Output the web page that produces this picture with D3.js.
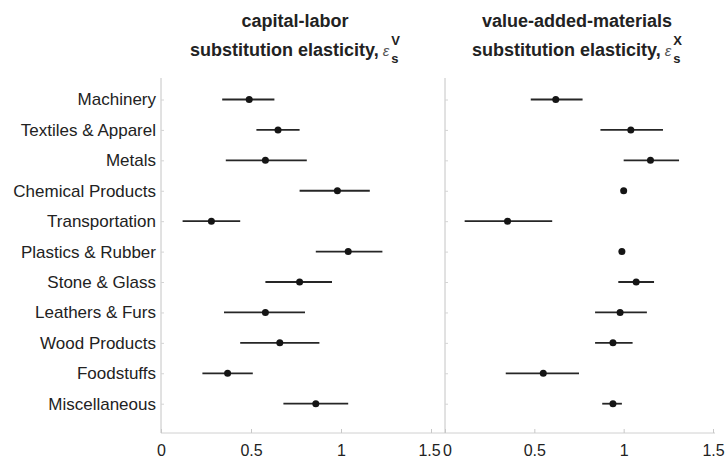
<!DOCTYPE html>
<html>
<head>
<meta charset="utf-8">
<script src="https://cdn.jsdelivr.net/npm/d3@7"></script>
<style>
  body { margin: 0; background: #fff; }
  text { font-family: "Liberation Sans", Arial, sans-serif; fill: #222; }
  .title { font-weight: bold; font-size: 18px; }
  .y-axis text { font-size: 17px; }
  .x-axis text { font-size: 16px; }
</style>
</head>
<body>
<div id="chart"></div>
<script>
var categories = ['Machinery', 'Textiles & Apparel', 'Metals', 'Chemical Products', 'Transportation',
  'Plastics & Rubber', 'Stone & Glass', 'Leathers & Furs', 'Wood Products', 'Foodstuffs', 'Miscellaneous'];

// capital-labor substitution elasticity
var capLaborEst = [0.49, 0.65, 0.58, 0.98, 0.28, 1.04, 0.77, 0.58, 0.66, 0.37, 0.86];
var capLaborLo  = [0.34, 0.53, 0.36, 0.77, 0.12, 0.86, 0.58, 0.35, 0.44, 0.23, 0.68];
var capLaborHi  = [0.63, 0.77, 0.81, 1.16, 0.44, 1.23, 0.95, 0.80, 0.88, 0.51, 1.04];

// value-added-materials substitution elasticity
var vaMatEst = [0.62, 1.04, 1.15, 1.00, 0.35, 0.99, 1.07, 0.98, 0.94, 0.55, 0.94];
var vaMatLo  = [0.48, 0.87, 1.00, 1.00, 0.11, 0.99, 0.97, 0.84, 0.84, 0.34, 0.88];
var vaMatHi  = [0.77, 1.22, 1.31, 1.00, 0.60, 0.99, 1.17, 1.13, 1.05, 0.75, 0.99];

var xTicks = [0, 0.5, 1, 1.5];
var xTickLabels = ['0', '0.5', '1', '1.5'];

(function() {
  var width = 727, height = 463,
      top = 78, bottom = 433;

  var svg = d3.select("#chart")
    .append("svg")
    .attr("width", width)
    .attr("height", height);

  var yPositionScale = d3.scalePoint().domain(categories).range([99.5, 403.7]);

  var panels = [
    { x0: 161, x1: 431, right: 445, est: capLaborEst, lo: capLaborLo, hi: capLaborHi,
      title1: "capital-labor", sup: "V", center: 295, labels: true },
    { x0: 445, x1: 713, right: 715, est: vaMatEst, lo: vaMatLo, hi: vaMatHi,
      title1: "value-added-materials", sup: "X", center: 577, labels: false }
  ];

  panels.forEach(function(p, pi) {
    var xPositionScale = d3.scaleLinear().domain([0, 1.5]).range([p.x0, p.x1]);

    var g = svg.append("g");

    // frame line on the left of each panel
    g.append("line")
      .attr("x1", p.x0).attr("x2", p.x0)
      .attr("y1", top).attr("y2", bottom)
      .attr("stroke", "#c4c4c4").attr("stroke-width", 1);

    var xAxis = d3.axisBottom(xPositionScale)
      .tickValues(xTicks)
      .tickFormat(function(d, i) { return xTickLabels[i]; })
      .tickSize(-4)
      .tickSizeOuter(0)
      .tickPadding(12);

    var xg = g.append("g")
      .attr("class", "x-axis")
      .attr("transform", "translate(0," + bottom + ")")
      .call(xAxis);
    xg.select(".domain").attr("d", "M" + p.x0 + ",0H" + p.right).attr("stroke", "#d0d0d0");
    xg.selectAll(".tick line").attr("stroke", "#c8c8c8");
    xg.selectAll(".tick text")
      .attr("fill", "#222")
      // the "1.5" of the left panel and the "0" of the right one sit edge to edge
      .attr("dx", function(d) {
        if (pi == 0 && d == 1.5) return -2;
        if (pi == 1 && d == 0) return 2;
        return 0;
      });

    var yAxis = d3.axisLeft(yPositionScale)
      .tickSize(-3)
      .tickPadding(5);

    var yg = g.append("g")
      .attr("class", "y-axis")
      .attr("transform", "translate(" + p.x0 + ",0)")
      .call(yAxis);
    yg.select(".domain").remove();
    yg.selectAll(".tick line").attr("stroke", "#d4d4d4");
    if (!p.labels) yg.selectAll(".tick text").remove();
    yg.selectAll(".tick text").attr("fill", "#222");

    // error bars
    g.selectAll(".bar")
      .data(categories)
      .enter().append("line")
      .attr("class", "bar")
      .attr("x1", function(d, i) { return xPositionScale(p.lo[i]); })
      .attr("x2", function(d, i) { return xPositionScale(p.hi[i]); })
      .attr("y1", function(d) { return yPositionScale(d); })
      .attr("y2", function(d) { return yPositionScale(d); })
      .attr("stroke", "#262626")
      .attr("stroke-width", 1.8);

    g.selectAll(".dot")
      .data(categories)
      .enter().append("circle")
      .attr("class", "dot")
      .attr("cx", function(d, i) { return xPositionScale(p.est[i]); })
      .attr("cy", function(d) { return yPositionScale(d); })
      .attr("r", 3.5)
      .attr("fill", "#151515");

    // titles
    g.append("text")
      .attr("class", "title")
      .attr("x", p.center)
      .attr("y", 27)
      .attr("text-anchor", "middle")
      .text(p.title1);

    var t2 = g.append("text")
      .attr("class", "title")
      .attr("y", 56)
      .text("substitution elasticity,");
    var eps = g.append("text")
      .attr("y", 56)
      .style("font-style", "italic")
      .style("font-size", "15px")
      .style("fill", "#555")
      .text("\u03b5");
    var sup = g.append("text")
      .attr("y", 45)
      .style("font-weight", "bold")
      .style("font-size", "13px")
      .text(p.sup);
    var sub = g.append("text")
      .attr("y", 63)
      .style("font-weight", "bold")
      .style("font-size", "13px")
      .text("s");

    var w = t2.node().getComputedTextLength(),
        we = eps.node().getComputedTextLength(),
        ws = sup.node().getComputedTextLength(),
        total = w + 4 + we + 2 + ws,
        start = p.center - total / 2;
    t2.attr("x", start);
    eps.attr("x", start + w + 4);
    sup.attr("x", start + w + 4 + we + 2);
    sub.attr("x", start + w + 4 + we + 2);
  });
})();
</script>
</body>
</html>
